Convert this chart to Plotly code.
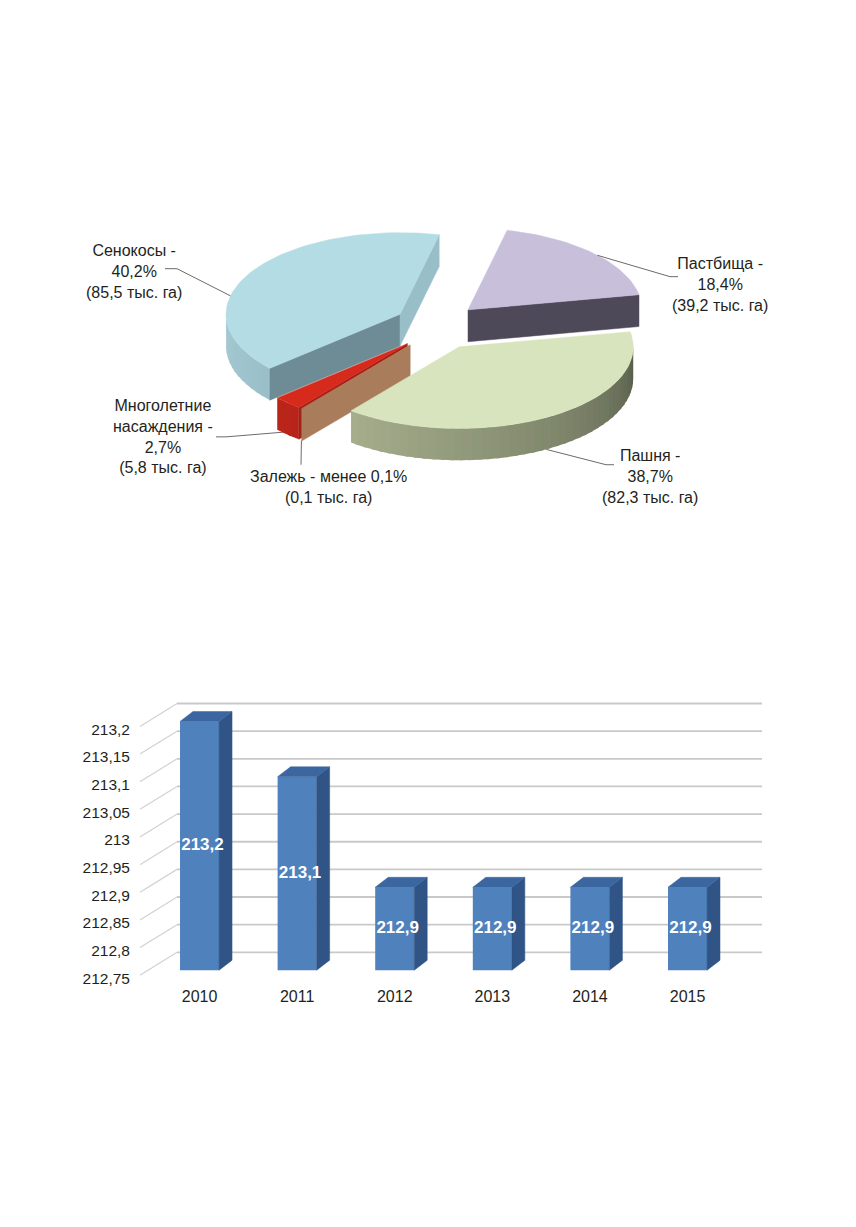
import numpy as np
import plotly.graph_objects as go

# ---- структура сельхозугодий (тыс. га) ----
land_names = ['Пастбища', 'Пашня', 'Залежь', 'Многолетние насаждения', 'Сенокосы']
land_area = [39.2, 82.3, 0.1, 5.8, 85.5]
land_share = ['18,4%', '38,7%', 'менее 0,1%', '2,7%', '40,2%']
land_area_text = ['39,2', '82,3', '0,1', '5,8', '85,5']

# ---- площадь по годам ----
years = ['2010', '2011', '2012', '2013', '2014', '2015']
total_area = [213.2, 213.1, 212.9, 212.9, 212.9, 212.9]
bar_labels = ['213,2', '213,1', '212,9', '212,9', '212,9', '212,9']
y_ticks = [212.75, 212.8, 212.85, 212.9, 212.95, 213.0, 213.05, 213.1, 213.15, 213.2]

OFF, OFFY = 8, 3              # page offset of the figure; positions below are screen pixels
W, H = 856 - 2 * OFF, 1227 - 2 * OFF
FONT = 'Liberation Sans, Arial, sans-serif'
TXT = '#231f20'

fig = go.Figure()

# ============ 3D pie (drawn in a pixel-like axis pair x3/y3) ============
cx, cy = 437, 323          # pie centre
ra, rb = 174, 82           # ellipse radii
ex, ey = 43, 24            # explode offset
depth = 32
start_angle = 13.0

# per slice: top colour, rim light/dark, start face, end face
styles = {
    'Пастбища': dict(top='#c8bfdb', light='#b5adc6', dark='#6d6680', f0='#6a6478', f1='#4e4958'),
    'Пашня': dict(top='#d8e4bd', light='#bcc5a0', dark='#4f5543', f0='#8d9676', f1='#8d9676'),
    'Залежь': dict(top='#b48664', light='#a97d5c', dark='#8a6448', f0='#a97d5c', f1='#a97d5c'),
    'Многолетние насаждения': dict(top='#d62a1d', light='#c4271c', dark='#8c1a12', f0='#a52118', f1='#a52118'),
    'Сенокосы': dict(top='#b4dce5', light='#a6cad3', dark='#5f8792', f0='#6e8c96', f1='#98bfc8'),
}


def hex2rgb(h):
    h = h.lstrip('#')
    return np.array([int(h[i:i + 2], 16) for i in (0, 2, 4)], dtype=float)


def mix(c1, c2, t):
    c = hex2rgb(c1) * (1 - t) + hex2rgb(c2) * t
    return 'rgb(%d,%d,%d)' % tuple(c.round())


def rim(apex, th):
    t = np.radians(th)
    return apex[0] + ra * np.sin(t), apex[1] - rb * np.cos(t)


def poly(xs, ys, color, lw=0.5):
    fig.add_trace(go.Scatter(x=list(xs) + [xs[0]], y=list(ys) + [ys[0]], fill='toself',
                             fillcolor=color, mode='lines', line=dict(width=lw, color=color),
                             xaxis='x3', yaxis='y3', hoverinfo='skip', showlegend=False))


total = sum(land_area)
slices = []
th = start_angle
for name, v in zip(land_names, land_area):
    span = 360.0 * v / total
    mid = np.radians(th + span / 2)
    apex = (cx + ex * np.sin(mid), cy - ey * np.cos(mid))
    slices.append(dict(name=name, t0=th, t1=th + span, apex=apex))
    th += span

for s in sorted(slices, key=lambda s: s['apex'][1]):
    st = styles[s['name']]
    ap, t0, t1 = s['apex'], s['t0'], s['t1']
    # outer rim (front half only), small overlapping strips for the shading
    lo, hi = max(t0, 90), min(t1, 270)
    if hi > lo:
        n = max(2, int((hi - lo) / 3))
        edges = np.linspace(lo, hi, n + 1)
        for a0, a1 in zip(edges[:-1], edges[1:]):
            a1x = min(hi, a1 + 1.2)
            p0, p1 = rim(ap, a0), rim(ap, a1x)
            k = ((a0 + a1) / 2 - 90) / 180
            poly([p0[0], p1[0], p1[0], p0[0]], [p0[1], p1[1], p1[1] + depth, p0[1] + depth],
                 mix(st['dark'], st['light'], min(1, max(0, k)) ** 0.7), lw=0)
    # cut faces facing the viewer
    for ang, col, vis in [(t0, st['f0'], np.sin(np.radians(t0)) < 0),
                          (t1, st['f1'], np.sin(np.radians(t1)) > 0)]:
        if vis:
            p = rim(ap, ang)
            poly([ap[0], p[0], p[0], ap[0]], [ap[1], p[1], p[1] + depth, ap[1] + depth], col)
    # top surface
    arc = np.linspace(t0, t1, max(3, int((t1 - t0) / 2) + 2))
    pts = [rim(ap, a) for a in arc]
    poly([ap[0]] + [p[0] for p in pts], [ap[1]] + [p[1] for p in pts], st['top'])

# leader lines and labels: (anchor angle, on bottom edge?, bend point, line end, label centre)
label_layout = {
    'Сенокосы': (283, False, (177, 265), (165, 265), (134, 268)),
    'Пастбища': (48, False, (670, 273), (678, 273), (720, 281)),
    'Пашня': (150, True, (606, 462), (614, 462), (650, 474)),
    'Многолетние насаждения': (226, True, (226, 434), (216, 434), (163, 434)),
    'Залежь': (218.7, True, (301, 462), (301, 462), (328, 484)),
}
for s, share, ha in zip(slices, land_share, land_area_text):
    ang, bottom, bend, end, lab = label_layout[s['name']]
    p = rim(s['apex'], ang)
    py = p[1] + (depth if bottom else 0)
    fig.add_trace(go.Scatter(x=[p[0], bend[0], end[0]], y=[py, bend[1], end[1]], mode='lines',
                             line=dict(color='#6b6b6b', width=1), xaxis='x3', yaxis='y3',
                             hoverinfo='skip', showlegend=False))
    if s['name'] == 'Многолетние насаждения':
        txt = 'Многолетние<br>насаждения -<br>%s<br>(%s тыс. га)' % (share, ha)
    elif s['name'] == 'Залежь':
        txt = 'Залежь - %s<br>(%s тыс. га)' % (share, ha)
    else:
        txt = '%s -<br>%s<br>(%s тыс. га)' % (s['name'], share, ha)
    fig.add_annotation(x=lab[0], y=lab[1], xref='x3', yref='y3', text=txt, showarrow=False,
                       align='center', font=dict(family=FONT, size=16, color=TXT))

# ============ 3D bar chart ============
base = 212.75
px_per_unit = 555.6              # vertical pixels per 1.0 of value
bar_w = 0.4
dx, dy = 0.133, 10 / px_per_unit  # bar depth
back_dy = 18 / px_per_unit        # back wall shift
back_x0, front_x0, x_right = -0.2305, -0.61, 5.763
label_drop = 8 / px_per_unit      # labels sit on the front edge of the floor

idx = list(range(len(years)))
fig.add_trace(go.Bar(x=idx, y=[v - base for v in total_area], base=base, width=bar_w,
                     marker=dict(color='#4f81bd', line=dict(width=0)),
                     hoverinfo='skip', showlegend=False))

side_x, side_y, top_x, top_y = [], [], [], []
for i, v in zip(idx, total_area):
    r, l = i + bar_w / 2, i - bar_w / 2
    side_x += [r, r + dx, r + dx, r, r, None]
    side_y += [base, base + dy, v + dy, v, base, None]
    top_x += [l, l + dx, r + dx, r, l, None]
    top_y += [v, v + dy, v + dy, v, v, None]
fig.add_trace(go.Scatter(x=side_x, y=side_y, fill='toself', fillcolor='#2f5485', mode='lines',
                         line=dict(width=0.5, color='#2f5485'), hoverinfo='skip', showlegend=False))
fig.add_trace(go.Scatter(x=top_x, y=top_y, fill='toself', fillcolor='#3b66a0', mode='lines',
                         line=dict(width=0.5, color='#3b66a0'), hoverinfo='skip', showlegend=False))

# value labels on top of everything, centred on the front face
fig.add_trace(go.Scatter(x=[i + 0.03 for i in idx], y=[(base + v) / 2 for v in total_area],
                         mode='text', text=bar_labels,
                         textfont=dict(family=FONT, size=17, color='white', weight='bold'),
                         hoverinfo='skip', showlegend=False))

# back wall gridlines + floor diagonals
for v in y_ticks:
    fig.add_shape(type='line', xref='x', yref='y', x0=back_x0, x1=x_right, y0=v + back_dy, y1=v + back_dy,
                  line=dict(color='#c9c9c9', width=1.8), layer='below')
    fig.add_shape(type='line', xref='x', yref='y', x0=front_x0, x1=back_x0,
                  y0=v - 5 / px_per_unit, y1=v + back_dy, line=dict(color='#d2d2d2', width=1.2), layer='below')

y_lo = base - 10 / px_per_unit
y_hi = base + 270 / px_per_unit

fig.update_layout(
    width=W, height=H, margin=dict(l=0, r=0, t=0, b=0), autosize=False,
    paper_bgcolor='white', plot_bgcolor='rgba(0,0,0,0)', showlegend=False,
    font=dict(family=FONT, color=TXT),
    xaxis=dict(domain=[(140 - OFF) / W, (762 - OFF) / W], range=[front_x0, x_right], tickvals=idx,
               ticktext=years, showgrid=False, zeroline=False, showline=False, ticks='',
               ticklabelstandoff=5, tickfont=dict(size=16, color=TXT), fixedrange=True),
    yaxis=dict(domain=[(H + OFFY - 980) / H, (H + OFFY - 700) / H], range=[y_lo, y_hi], showgrid=False,
               zeroline=False, ticks='', tickvals=[v - label_drop for v in y_ticks],
               ticktext=[('%g' % v).replace('.', ',') for v in y_ticks], ticklabelstandoff=9,
               tickfont=dict(size=15.5, color=TXT), fixedrange=True),
    xaxis3=dict(domain=[0, 1], range=[OFF, W + OFF], visible=False, anchor='y3', fixedrange=True),
    yaxis3=dict(domain=[0, 1], range=[H + OFFY, OFFY], visible=False, anchor='x3', fixedrange=True),
)

fig.write_html("out.html")
